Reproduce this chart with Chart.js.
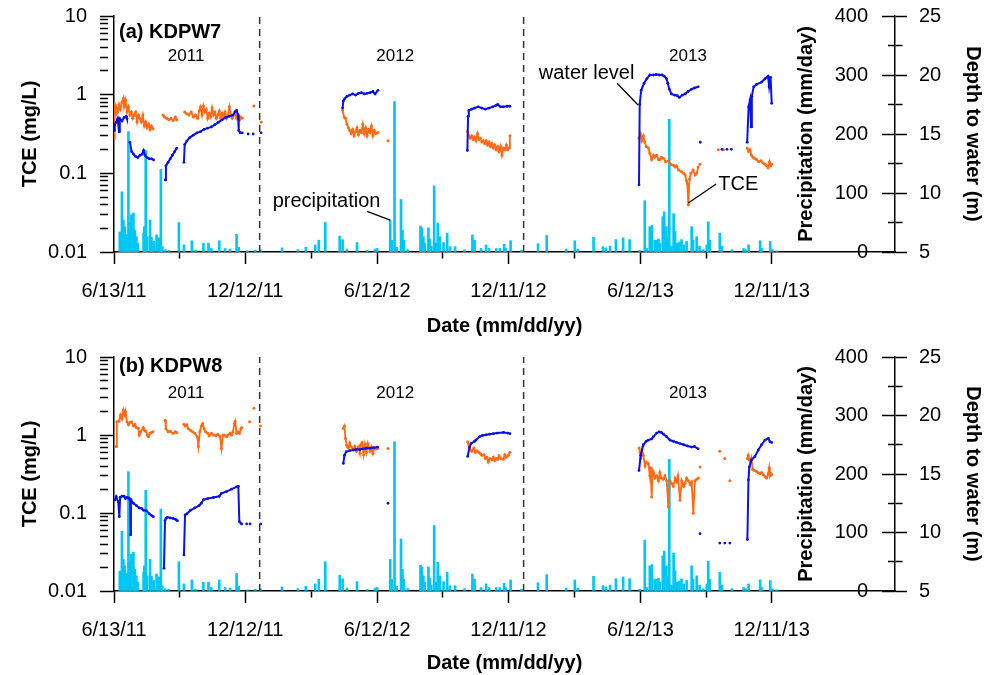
<!DOCTYPE html>
<html>
<head>
<meta charset="utf-8">
<script src="https://cdn.jsdelivr.net/npm/chart.js@4.4.1/dist/chart.umd.min.js"></script>
<style>
  html, body { margin: 0; padding: 0; background: #fff; }
  canvas { display: block; }
</style>
</head>
<body>
<canvas id="chartA" width="986" height="338"></canvas>
<canvas id="chartB" width="986" height="337"></canvas>
<script>
// x axis is "days since 6/13/11"
const dateTickDays = [0, 91, 182, 274, 365, 456, 547, 639, 730, 821, 912];
const dateTickLabels = ['6/13/11', '', '12/12/11', '', '6/12/12', '', '12/11/12', '', '6/12/13', '', '12/11/13'];
const yearDividers = [202, 568];           // 1/1/12 and 1/1/13
const yearLabels = ['2011', '2012', '2013'];
const yearLabelDays = [100, 390, 796];

const tceMajor = [0.01, 0.1, 1, 10];
const tceMajorLabels = ['0.01', '0.1', '1', '10'];
const precipTicks = [0, 50, 100, 150, 200, 250, 300, 350, 400];
const precipTickLabels = ['0', '', '100', '', '200', '', '300', '', '400'];
const depthTicks = [5, 7.5, 10, 12.5, 15, 17.5, 20, 22.5, 25];
const depthTickLabels = ['5', '', '10', '', '15', '', '20', '', '25'];

// daily precipitation (mm/day), same for both wells
const precipDay = [
  8, 11, 13, 15, 17, 20, 22, 24, 27, 29, 31, 33, 41, 42, 44, 46, 50, 52, 55, 59,
  62, 65, 67, 71, 76, 90, 97, 108, 113, 124, 131, 135, 146, 154, 161, 170, 173, 185, 196, 203,
  233, 255, 266, 279, 284, 293,
  313, 317, 323, 337, 351, 362, 365, 383, 385, 389, 392, 398, 400, 402, 407, 425, 427, 429, 431, 436,
  438, 440, 444, 447, 449, 452, 457, 462, 466, 473, 486, 497, 500, 509, 516, 520, 530, 535, 541, 543,
  550, 565, 588, 600, 627, 639, 643, 665, 678, 682, 688, 696, 706, 715, 729,
  736, 739, 743, 746, 750, 752, 755, 757, 761, 763, 766, 768, 770, 773, 776, 778, 781, 784, 787, 790,
  794, 801, 803, 808, 812, 817, 822, 824, 826, 840, 843, 857, 873, 876, 880, 896, 898, 910, 913, 919
];
const precipMM = [
  34, 102, 54, 43, 30, 204, 50, 63, 66, 37, 26, 15, 32, 43, 172, 26, 54, 25, 18, 29,
  24, 140, 9, 4, 3, 50, 12, 19, 3, 15, 15, 6, 19, 6, 5, 30, 8, 2, 3, 4,
  7, 4, 8, 12, 20, 50,
  27, 21, 5, 16, 3, 5, 6, 54, 20, 255, 8, 89, 37, 20, 4, 44, 41, 26, 15, 41,
  22, 10, 112, 15, 49, 26, 16, 32, 9, 9, 4, 29, 20, 6, 12, 6, 6, 6, 13, 6,
  19, 3, 14, 28, 5, 19, 5, 25, 9, 7, 10, 21, 24, 21, 3,
  87, 6, 43, 45, 20, 20, 22, 15, 60, 68, 43, 25, 225, 10, 65, 35, 15, 17, 21, 12,
  18, 43, 20, 26, 10, 4, 12, 51, 20, 32, 10, 4, 6, 4, 12, 19, 6, 18, 4, 2
];

// KDPW7: [day, TCE mg/L], null = gap
const tceA = [
  [0,0.28],[1,0.75],[2,0.55],[3,0.7],[5,0.6],[7,0.75],[9,0.65],[11,0.8],[13,0.9],[14,0.7],
  [16,0.85],[18,0.6],[20,0.7],[22,0.55],[24,0.6],[26,0.5],[28,0.55],[30,0.6],[32,0.45],[34,0.55],
  [36,0.5],[38,0.45],[40,0.55],[42,0.4],[44,0.45],[46,0.38],[48,0.42],[50,0.36],[52,0.4],[54,0.37], null,
  [68,0.55],[70,0.52],[73,0.5],[76,0.48],[79,0.5],[82,0.47],[85,0.52],[87,0.48], null,
  [98,0.6],[101,0.57],[104,0.55],[107,0.6],[110,0.52],[113,0.55],[116,0.5],[118,0.62],[120,0.7],[122,0.55],
  [124,0.72],[126,0.6],[128,0.65],[130,0.5],[132,0.58],[134,0.52],[136,0.68],[138,0.55],[140,0.6],[142,0.5],
  [144,0.55],[146,0.62],[148,0.5],[150,0.58],[152,0.52],[154,0.6],[156,0.5],[158,0.55],[160,0.7],[162,0.55],
  [164,0.5],[166,0.55],[168,0.6],[170,0.5],[172,0.55],[174,0.48],[176,0.52],[178,0.5], null,
  [194,0.72], null, [204,0.45], null,
  [317,0.64],[319,0.52],[321,0.5],[323,0.42],[325,0.38],[327,0.35],[329,0.32],[331,0.36],[333,0.3],[335,0.34],
  [337,0.38],[339,0.31],[341,0.35],[343,0.33],[345,0.42],[347,0.32],[349,0.38],[351,0.3],[353,0.36],[355,0.33],
  [357,0.4],[359,0.3],[361,0.35],[363,0.32],[366,0.33], null, [380,0.26], null,
  [490,0.34],[492,0.3],[494,0.28],[496,0.3],[498,0.27],[500,0.29],[502,0.26],[504,0.32],[506,0.27],[508,0.28],
  [510,0.25],[512,0.26],[514,0.24],[516,0.26],[518,0.23],[520,0.25],[522,0.22],[524,0.24],[526,0.21],[528,0.23],
  [530,0.2],[532,0.22],[534,0.19],[536,0.22],[538,0.17],[540,0.21],[542,0.2],[544,0.23],[546,0.2],[548,0.21],[549,0.3], null,
  [728,0.28],[730,0.32],[732,0.26],[734,0.3],[736,0.25],[738,0.22],[741,0.21],[743,0.18],[745.6,0.15],[748,0.17],
  [750,0.16],[752.5,0.17],[755,0.15],[757,0.15],[759,0.16],[762,0.155],[765,0.14],[769,0.145],[772,0.13],[775.6,0.127],
  [778,0.12],[780,0.125],[783,0.11],[787,0.105],[790,0.1],[792,0.095],[794,0.08],[795,0.074],[796.4,0.04],[798,0.085],
  [800,0.1],[803,0.11],[806,0.095],[808,0.1],[810,0.12], null, [812.5,0.13], null, [838,0.2], null, [845,0.2], null,
  [878,0.21],[880,0.19],[882,0.2],[884,0.17],[886,0.16],[888,0.155],[891,0.15],[894,0.14],[897,0.145],[900,0.135],
  [903,0.13],[905,0.125],[907,0.118],[909,0.14],[910.5,0.125],[912,0.13]
];
// KDPW7: [day, depth to water m]
const depthA = [
  [0,15.3],[1,15.8],[3,16.0],[5,16.3],[7,15.2],[8,16.3],[11,16.1],[14,16.4],[17,16.5],[18,16.3], null,
  [22,14.3],[24.5,13.5],[27,13.3],[30,13.1],[33,13.0],[36,13.2],[39,13.3],[41,13.6],[43,13.2],[46,13.0],
  [49,12.9],[52,12.9],[55,12.8], null,
  [71,11.1],[72,12.3],[75,12.6],[78,12.9],[81,13.2],[84,13.5],[87,13.8], null,
  [97,12.6],[98,14.1],[101,14.4],[105,14.7],[110,14.9],[115,15.1],[120,15.2],[125,15.4],[130,15.5],[135,15.6],
  [140,15.8],[145,16.0],[150,16.2],[155,16.4],[160,16.5],[165,16.6],[168,16.9],[170,17.0],[172,16.6],[173,15.3],
  [175,15.1],[178,15.1], null, [186,15.0], null, [193,15.0], null, [204,15.1], null,
  [317,17.2],[318,17.8],[320,18.0],[323,18.2],[327,18.3],[331,18.4],[335,18.3],[339,18.45],[343,18.5],[347,18.4],
  [351,18.45],[355,18.5],[359,18.6],[362,18.4],[366,18.7], null,
  [490,13.6],[491,16.5],[492,17.0],[496,17.1],[500,17.2],[505,17.3],[510,17.2],[515,17.1],[520,17.2],[525,17.3],
  [529,17.4],[532,17.5],[536,17.3],[540,17.3],[545,17.35],[549,17.35], null,
  [728,10.7],[729,17.5],[731,18.7],[735,19.3],[739,19.7],[743,20.0],[748,20.0],[752,20.05],[756,20.0],[760,20.0],
  [763,19.9],[766,19.7],[768,19.3],[770,18.8],[773,18.4],[777,18.3],[781,18.25],[784,18.1],[788,18.3],[792,18.4],
  [796,18.6],[801,18.8],[805,18.9],[810,19.0], null,
  [813,14.3], null, [843,13.7], null, [850,13.7], null, [856,13.7], null,
  [878,14.3],[880,17.3],[882,17.9],[883.5,15.6],[884.5,18.2],[887,19.0],[891,19.2],[898,19.4],[903,19.7],[907,19.9],
  [908.5,19.0],[910.5,19.8],[912,17.6]
];

// KDPW8
const tceB = [
  [3,0.71],[4,1.48],[7,1.5],[9,1.8],[11,1.6],[13,2.09],[15,1.8],[16,2.0],[18,1.48],[20,1.35],
  [22,1.45],[24.5,1.48],[27,1.3],[29,1.37],[31,1.25],[33.7,1.22],[35,1.0],[37,1.1],[40.7,1.25],[42,1.15],
  [44,1.12],[46,1.0],[47.6,0.95],[50,1.05],[52,1.08],[54,1.1], null,
  [71,1.55],[72,1.2],[75,1.1],[78,1.12],[82,1.05],[85,1.1],[87,1.08], null,
  [97,1.37],[99,1.3],[101,1.35],[103,1.2],[106,1.15],[109,1.1],[112,1.05],[115.5,0.95],[117,0.71],[119,1.1],
  [121,1.3],[123,1.4],[125,1.2],[127,1.1],[130,1.05],[132,0.98],[135,1.05],[138,1.0],[141,0.98],[144,1.02],
  [147,0.95],[149,0.67],[151,1.0],[153,1.0],[156,0.95],[158,1.0],[161,1.05],[163,1.0],[165,1.1],[167,1.4],
  [168,1.5],[170,1.05],[172,1.1],[174,1.05],[176,1.2],[177,1.25], null,
  [188,1.48], null, [194,2.2], null, [203,1.3], null,
  [318,1.22],[319.5,1.3],[321,0.9],[322.6,0.74],[324,0.7],[325,0.68],[327,0.79],[329,0.7],[332,0.65],[334,0.72],
  [336,0.62],[339,0.7],[341,0.58],[342,0.75],[344,0.8],[346,0.56],[348,0.76],[350,0.6],[352,0.78],[355,0.62],
  [357,0.7],[359,0.58],[361,0.68],[363,0.66],[365.7,0.67], null, [380,0.67], null,
  [490.5,0.82],[492.8,0.67],[496,0.62],[499,0.68],[501,0.6],[503,0.63],[506,0.6],[508,0.58],[510,0.55],[513,0.56],
  [515,0.5],[517,0.52],[519,0.45],[521,0.5],[524,0.48],[526,0.52],[528,0.47],[530,0.5],[532,0.49],[534,0.54],
  [536,0.5],[540,0.49],[542,0.56],[544,0.52],[547,0.55],[549,0.6], null,
  [728,0.68],[729.5,0.6],[730.4,0.5],[732,0.65],[734,0.55],[736.4,0.4],[738,0.45],[741,0.43],[743,0.3],[744,0.38],
  [745.6,0.16],[747,0.35],[748,0.33],[750,0.28],[752.5,0.3],[755,0.26],[757,0.33],[759,0.28],[761.8,0.27],[764,0.3],
  [766.4,0.26],[768.7,0.12],[771,0.26],[773,0.24],[775.6,0.22],[778,0.28],[780.3,0.25],[782,0.3],[784.9,0.146],[787.2,0.26],
  [790,0.22],[791.8,0.24],[794,0.28],[796.4,0.26],[799,0.23],[801,0.25],[803.3,0.099],[805.6,0.26],[808,0.27],[810.3,0.28], null,
  [812.7,0.39], null, [840,0.62], null, [847,0.5], null, [854,0.26], null,
  [878.3,0.5],[879.5,0.55],[881,0.48],[882.9,0.45],[884,0.5],[885.7,0.36],[888,0.35],[891.2,0.34],[893,0.33],[895.8,0.32],
  [898,0.33],[900.4,0.31],[903,0.29],[905,0.28],[907.3,0.32],[908.5,0.38],[909.6,0.3],[911,0.32],[911.9,0.31]
];
const depthB = [
  [1.4,12.78],[3,13.06],[6,12.6],[7.4,11.35],[8.5,13.0],[11,13.1],[14,13.1],[16,12.9],[18,13.0],[20,12.95],
  [22,12.8],[22.8,9.8],[23.5,12.8],[27,12.5],[31,12.3],[35,12.1],[38,12.07],[41,11.9],[45,11.85],[49,11.6],
  [52,11.45],[54.5,11.35], null,
  [69.3,6.94],[70.7,11.0],[72,11.2],[74,11.3],[78,11.25],[82,11.2],[86,11.1],[88,11.0], null,
  [97,8.08],[98.5,11.5],[101,11.6],[106,11.9],[112,12.1],[118,12.3],[121,12.5],[124,12.8],[130,12.9],[138,13.0],
  [146,13.1],[149,13.35],[156,13.5],[163,13.7],[170,13.9],[172.4,13.95],[173.8,10.92],[177,10.73], null,
  [184,10.73], null, [188.6,10.73], null, [203.4,10.73], null,
  [318,15.9],[319.5,16.6],[322,16.9],[327,17.0],[332,17.05],[336,17.1],[341,17.1],[345,17.15],[350,17.2],[355,17.2],
  [360,17.25],[365.7,17.3], null, [380,12.5], null,
  [490.5,16.5],[493,17.3],[495,17.6],[500,17.8],[502,17.9],[507,18.2],[511,18.3],[516,18.35],[521,18.4],[526,18.45],
  [531,18.5],[540,18.55],[546,18.5],[549,18.45], null,
  [728,15.3],[730.4,16.6],[734,17.5],[738,17.8],[741,17.9],[745.6,18.0],[748,18.2],[752.5,18.5],[756,18.6],[759,18.55],
  [762,18.4],[766,18.2],[771,17.9],[775.6,17.8],[780,17.7],[785,17.6],[790,17.5],[795,17.4],[801,17.3],[805,17.35],
  [810,17.15], null,
  [812.7,9.9], null, [840,9.1], null, [847,9.1], null, [854,9.1], null,
  [878.3,9.4],[879.8,14.5],[881,15.6],[884,16.2],[888.8,16.5],[893.4,17.05],[898,17.5],[902.7,17.9],[907.3,18.05],[909.6,17.76],
  [912,17.7]
];

const FONT = '"Liberation Sans", Arial, Helvetica, sans-serif';
const ORANGE = '#FF6A13';
const BLUE = '#0A12E6';
const CYAN = '#00C6F4';

Chart.defaults.font.family = FONT;
Chart.defaults.font.size = 20;
Chart.defaults.color = '#000';

function toPoints(pairs) {
  let lastX = 0;
  return pairs.map(p => {
    if (p === null) return { x: lastX, y: null };
    lastX = p[0];
    return { x: p[0], y: p[1] };
  });
}

// all log ticks 1..9 x 10^n
const tceTicks = [];
tceMajor.slice(0, 3).forEach(d => { for (let k = 1; k < 10; k++) tceTicks.push(k * d); });
tceTicks.push(10);
function tceLabel(v) {
  const i = tceMajor.findIndex(m => Math.abs(Math.log10(m) - Math.log10(v)) < 1e-6);
  return i < 0 ? '' : tceMajorLabels[i];
}

// vertical axes: keep label padding from pushing the plot area down
function fixV(width) {
  return s => { s.width = width; s.paddingTop = 0; s.paddingBottom = 0; };
}

// text that isn't an axis: panel name, years, call-outs, precip axis title
const panelText = {
  id: 'panelText',
  afterDraw(chart, args, opts) {
    const { ctx, chartArea: a, scales } = chart;
    const x = scales.x;
    ctx.save();
    ctx.fillStyle = '#000';
    ctx.textBaseline = 'middle';

    ctx.font = 'bold 20px ' + FONT;
    ctx.textAlign = 'left';
    ctx.fillText(opts.label, a.left + 5, a.top + opts.labelDy);

    ctx.font = '17px ' + FONT;
    ctx.textAlign = 'center';
    yearLabels.forEach((t, i) => ctx.fillText(t, x.getPixelForValue(yearLabelDays[i]), a.top + opts.yearDy));

    ctx.save();
    ctx.translate(a.right - 89, (a.top + a.bottom) / 2);
    ctx.rotate(-Math.PI / 2);
    ctx.font = 'bold 20px ' + FONT;
    ctx.fillText('Precipitation (mm/day)', 0, 0);
    ctx.restore();

    ctx.font = '20px ' + FONT;
    ctx.textAlign = 'left';
    ctx.strokeStyle = '#000';
    ctx.lineWidth = 1.3;
    (opts.notes || []).forEach(n => {
      const s = scales[n.axis];
      ctx.fillText(n.text, x.getPixelForValue(n.at[0]), s.getPixelForValue(n.at[1]));
      ctx.beginPath();
      ctx.moveTo(x.getPixelForValue(n.from[0]), s.getPixelForValue(n.from[1]));
      ctx.lineTo(x.getPixelForValue(n.to[0]), s.getPixelForValue(n.to[1]));
      ctx.stroke();
    });
    ctx.restore();
  }
};

function makePanel(id, tce, depth, p) {
  const divider = d => ({
    type: 'line', data: [{ x: d, y: 0.01 }, { x: d, y: 10 }], yAxisID: 'y',
    borderColor: '#333', borderWidth: 1.5, borderDash: [7, 5], pointRadius: 0, order: 0
  });
  return new Chart(document.getElementById(id), {
    type: 'line',
    data: {
      datasets: [
        divider(yearDividers[0]),
        divider(yearDividers[1]),
        {
          label: 'Depth to water', data: toPoints(depth), yAxisID: 'yDepth',
          borderColor: BLUE, backgroundColor: BLUE, borderWidth: 2,
          pointRadius: 1.4, pointBorderWidth: 0, spanGaps: false, order: 1
        },
        {
          label: 'TCE', data: toPoints(tce), yAxisID: 'y',
          borderColor: ORANGE, backgroundColor: ORANGE, borderWidth: 1.8,
          pointRadius: 1.5, pointBorderWidth: 0, spanGaps: false, order: 2
        },
        {
          type: 'bar', label: 'Precipitation', yAxisID: 'yPrecip',
          data: precipDay.map((d, i) => ({ x: d, y: precipMM[i] })),
          backgroundColor: CYAN, barThickness: 2, grouped: false, order: 3
        }
      ]
    },
    options: {
      responsive: false,
      animation: false,
      events: [],
      layout: { padding: { top: p.top, left: 0, right: 0, bottom: 0 } },
      plugins: {
        legend: { display: false },
        tooltip: { enabled: false },
        panelText: { label: p.label, labelDy: p.labelDy, yearDy: p.yearDy, notes: p.notes }
      },
      scales: {
        x: {
          type: 'linear', min: 0, max: 1083, offset: false,
          afterBuildTicks: s => { s.ticks = dateTickDays.map(v => ({ value: v })); },
          afterFit: s => { s.height = p.bottomH; },
          border: { display: true, color: '#000', width: 1.5 },
          grid: {
            offset: false, drawOnChartArea: false, tickLength: 12, tickWidth: 1.5, tickColor: '#000',
            tickBorderDash: c => dateTickLabels[c.index] ? [] : [6, 40]
          },
          ticks: { autoSkip: false, maxRotation: 0, padding: 15, callback: (v, i) => dateTickLabels[i] },
          title: { display: true, text: 'Date (mm/dd/yy)', font: { size: 20, weight: 'bold' }, padding: { top: 0, bottom: 0 } }
        },
        y: {
          type: 'logarithmic', position: 'left', min: 0.01, max: 10,
          afterBuildTicks: s => { s.ticks = tceTicks.map(v => ({ value: v })); },
          afterFit: fixV(114),
          border: { display: true, color: '#000', width: 1.5 },
          grid: {
            offset: false, drawOnChartArea: false, tickLength: 14, tickWidth: 1.5, tickColor: '#000',
            tickBorderDash: c => tceLabel(c.tick.value) ? [] : [8, 40]
          },
          ticks: { autoSkip: false, padding: 13, callback: v => tceLabel(v) },
          title: { display: true, text: 'TCE (mg/L)', font: { size: 20, weight: 'bold' }, padding: { top: 18, bottom: 0 } }
        },
        yPrecip: {
          type: 'linear', position: 'right', weight: 0, min: 0, max: 400,
          afterBuildTicks: s => { s.ticks = precipTicks.map(v => ({ value: v })); },
          afterFit: fixV(0),
          border: { display: false },
          grid: {
            offset: false, drawOnChartArea: false, tickLength: -13, tickWidth: 1.5, tickColor: '#000',
            tickBorderDash: c => precipTickLabels[c.index] ? [] : [7, 40]
          },
          ticks: { autoSkip: false, mirror: true, padding: -27, callback: (v, i) => precipTickLabels[i] }
        },
        yDepth: {
          type: 'linear', position: 'right', weight: 1, min: 5, max: 25,
          afterBuildTicks: s => { s.ticks = depthTicks.map(v => ({ value: v })); },
          afterFit: fixV(91),
          border: { display: true, color: '#000', width: 1.5 },
          grid: {
            offset: false, drawOnChartArea: false, tickLength: 12, tickWidth: 1.5, tickColor: '#000',
            tickBorderDash: c => depthTickLabels[c.index] ? [] : [7, 40]
          },
          ticks: { autoSkip: false, padding: 12, callback: (v, i) => depthTickLabels[i] },
          title: { display: true, text: 'Depth to water (m)', font: { size: 20, weight: 'bold' }, padding: { top: 1, bottom: 0 } }
        }
      }
    },
    plugins: [panelText]
  });
}

makePanel('chartA', tceA, depthA, {
  top: 16, bottomH: 86, label: '(a) KDPW7', labelDy: 16, yearDy: 40,
  notes: [
    { text: 'precipitation', axis: 'yPrecip', at: [220, 85], from: [351, 69], to: [383, 54] },
    { text: 'water level', axis: 'yDepth', at: [589, 20.1], from: [697.6, 19.3], to: [726.7, 17.46] },
    { text: 'TCE', axis: 'y', at: [838, 0.073], from: [835, 0.073], to: [796.4, 0.042] }
  ]
});
makePanel('chartB', tceB, depthB, {
  top: 19, bottomH: 84, label: '(b) KDPW8', labelDy: 9, yearDy: 36, notes: []
});
</script>
</body>
</html>
